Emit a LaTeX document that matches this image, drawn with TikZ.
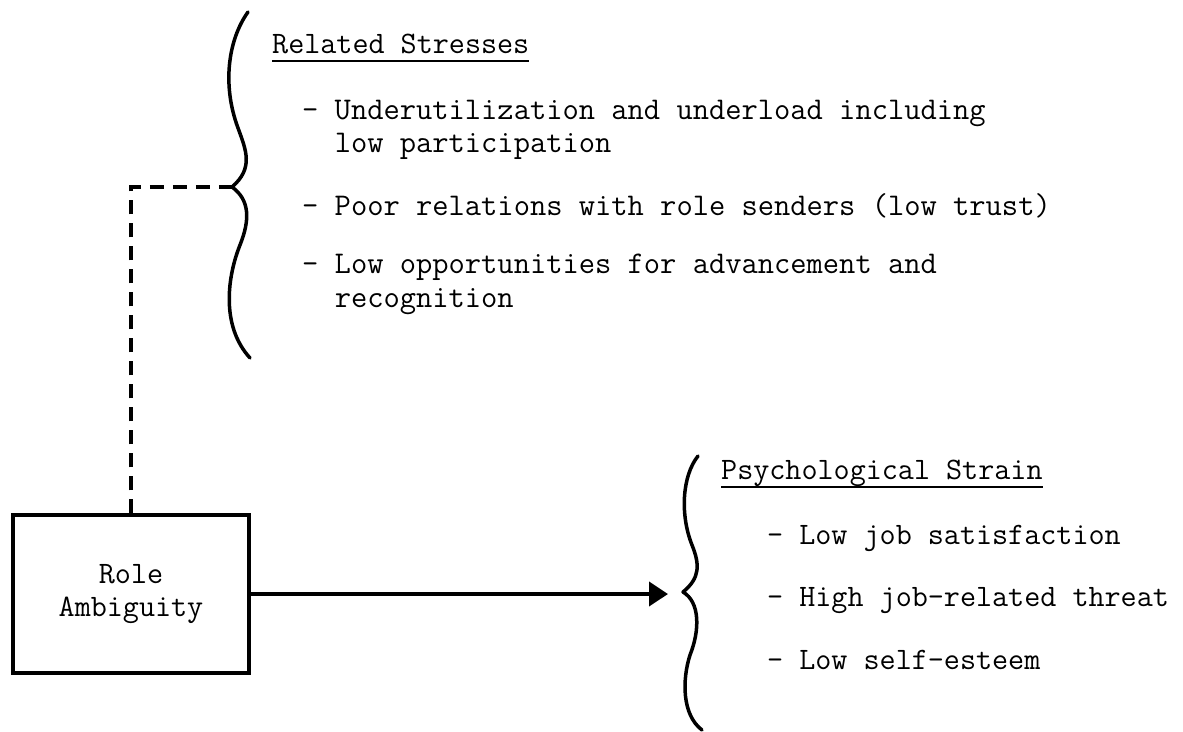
\documentclass[tikz,border=0pt]{standalone}
\usepackage{fontspec}
\usetikzlibrary{arrows.meta}
\begin{document}
\begin{tikzpicture}[x=1pt,y=-1pt,
  txt/.style={anchor=base west, inner sep=0pt, font=\ttfamily\fontsize{31.2}{33}\selectfont},
  widetxt/.style={txt, font=\ttfamily\fontsize{31.6}{33}\selectfont},
  bracepath/.style={line width=3.5pt, line cap=round, line join=round},
  rolebox/.style={draw, line width=3.5pt, minimum width=236pt, minimum height=158pt,
    align=center, inner sep=0pt, font=\ttfamily\fontsize{31.2}{33}\selectfont},
  link/.style={line width=3.5pt, dash pattern=on 14pt off 9pt},
  flow/.style={line width=4pt, -{Triangle[length=19pt,width=24pt]}},
  underbar/.style={line width=2.2pt}
]
\fill[white] (0,0) rectangle (1183,731);
\useasboundingbox (0,0) rectangle (1183,731);

% tips of the two braces
\coordinate (tip1) at (232,187);
\coordinate (tip2) at (683,592);

% upper brace
\draw[bracepath] (248,12) .. controls (228,40) and (222,85) .. (238,128)
  .. controls (246,150) and (254,168) .. (tip1)
  .. controls (250,200) and (250,220) .. (240,245)
  .. controls (228,275) and (220,325) .. (250,358);

% lower brace
\draw[bracepath] (698,456) .. controls (682,476) and (680,515) .. (692,545)
  .. controls (700,565) and (700,578) .. (tip2)
  .. controls (700,602) and (700,630) .. (690,655)
  .. controls (682,680) and (682,715) .. (702,730);

% role box
\node[rolebox] (box) at (131,594) {Role\\Ambiguity};

% connectors
\draw[link] (box.north) |- (tip1);
\draw[flow, shorten >=15pt] (box.east) -- (tip2 |- box.east);

% related stresses
\node[txt] (rs) at (272,53) {Related Stresses};
\draw[underbar] ([yshift=-8pt]rs.base west) -- ([yshift=-8pt]rs.base east);
\node[widetxt] (rs1a) at (302,119) {- Underutilization and underload including};
\node[widetxt] (rs1b) at (302,152) {\hphantom{- }low participation};
\node[widetxt] (rs2) at (302,215) {- Poor relations with role senders (low trust)};
\node[widetxt] (rs3a) at (302,273) {- Low opportunities for advancement and};
\node[widetxt] (rs3b) at (302,307) {\hphantom{- }recognition};

% psychological strain
\node[txt] (ps) at (721,479) {Psychological Strain};
\draw[underbar] ([yshift=-8pt]ps.base west) -- ([yshift=-8pt]ps.base east);
\node[txt] (ps1) at (767,544) {- Low job satisfaction};
\node[txt] (ps2) at (767,606) {- High job-related threat};
\node[txt] (ps3) at (767,669) {- Low self-esteem};
\end{tikzpicture}
\end{document}
